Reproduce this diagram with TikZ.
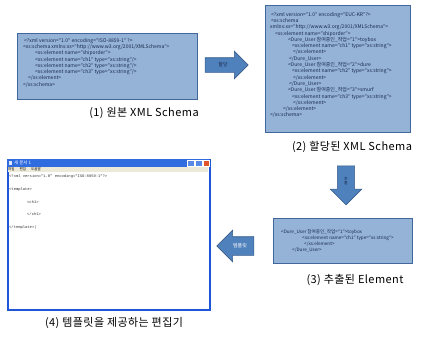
\documentclass[tikz,border=0pt]{standalone}
\usepackage{fontspec}
\setmainfont{Noto Sans CJK KR}
\newfontfamily\codefont{Liberation Mono}
\usetikzlibrary{positioning,shapes.arrows}
\definecolor{boxfill}{HTML}{95B3D7}
\definecolor{boxline}{HTML}{41679C}
\definecolor{ink}{HTML}{17284A}
\definecolor{arrowfill}{HTML}{4F81BD}
\definecolor{arrowline}{HTML}{385D8A}
\definecolor{xpblue}{HTML}{1E56D8}
\definecolor{xpbar}{HTML}{2F6CE0}
\definecolor{xpmenu}{HTML}{ECE9D8}
\definecolor{xpclose}{HTML}{E0552E}

\begin{document}
\begin{tikzpicture}[x=1pt, y=-1pt,
  xmlbox/.style={draw=boxline, line width=1pt, fill=boxfill, anchor=north west, inner sep=0pt},
  code/.style={anchor=north west, inner sep=0pt, align=left, text=ink, font=\fontsize{5}{6.3}\selectfont},
  steplabel/.style={font=\fontsize{11}{12}\selectfont\addfontfeatures{LetterSpace=4}, text=black},
  blockarrow/.style={single arrow, draw=arrowline, fill=arrowfill, line width=0.6pt,
    single arrow head extend=6.5pt, inner xsep=2pt, inner ysep=4.5pt,
    font=\fontsize{5}{5.5}\selectfont, text=ink}]

\useasboundingbox (0,0) rectangle (422,337);

% step 1: source schema
\node[xmlbox, minimum width=180pt, minimum height=66pt] (src) at (17,33) {};
\node[code] (srctxt) at (23,38)
  {\hspace*{1pt}<?xml version="1.0" encoding="ISO-8859-1" ?>\\
   <xs:schema xmlns:xs="http://www.w3.org/2001/XMLSchema">\\
   \hspace*{12pt}<xs:element name="shiporder">\\
   \hspace*{12pt}<xs:element name="ch1" type="xs:string"/>\\
   \hspace*{12pt}<xs:element name="ch2" type="xs:string"/>\\
   \hspace*{12pt}<xs:element name="ch3" type="xs:string"/>\\
   \hspace*{5pt}</xs:element>\\
   </xs:schema>};
\node[steplabel] (srccap) at (144,113) {(1) 원본 XML Schema};

% step 2: assigned schema
\node[blockarrow, text height=4pt, text depth=1pt, minimum height=43pt] (assign) at (223,65) {할당};
\node[xmlbox, minimum width=145pt, minimum height=127pt] (alloc) at (265,5) {};
\node[code] (alloctxt) at (270,12)
  {\hspace*{1pt}<?xml version="1.0" encoding="EUC-KR"?>\\
   \hspace*{1pt}<xs:schema\\
   xmlns:xs="http://www.w3.org/2001/XMLSchema">\\
   \hspace*{5pt}<xs:element name="shiporder">\\
   \hspace*{18pt}<Dure\_User 참여중인\_작업="1">toybox\\
   \hspace*{22pt}<xs:element name="ch1" type="xs:string">\\
   \hspace*{23pt}</xs:element>\\
   \hspace*{19pt}</Dure\_User>\\
   \hspace*{18pt}<Dure\_User 참여중인\_작업="2">dure\\
   \hspace*{22pt}<xs:element name="ch2" type="xs:string">\\
   \hspace*{23pt}</xs:element>\\
   \hspace*{19pt}</Dure\_User>\\
   \hspace*{18pt}<Dure\_User 참여중인\_작업="3">smurf\\
   \hspace*{22pt}<xs:element name="ch3" type="xs:string">\\
   \hspace*{23pt}</xs:element>\\
   \hspace*{13pt}</xs:element>\\
   </xs:schema>};
\node[steplabel] (alloccap) at (352,147) {(2) 할당된 XML Schema};

% step 3: extracted element
\node[blockarrow, shape border rotate=270, align=center, inner xsep=6.5pt, inner ysep=2pt,
  single arrow head extend=7pt, font=\fontsize{4}{4.5}\selectfont, minimum height=39pt] (pull) at (346,181) {추\\출};
\node[xmlbox, minimum width=139pt, minimum height=45pt] (extract) at (273,218) {};
\node[code, font=\fontsize{4.6}{6}\selectfont] (extracttxt) at (281,229)
  {<Dure\_User 참여중인\_작업="1">toybox\\
   \hspace*{21pt}<xs:element name="ch1" type="xs:string">\\
   \hspace*{23pt}</xs:element>\\
   \hspace*{11pt}</Dure\_User>};
\node[steplabel] (extractcap) at (355,280) {(3) 추출된 Element};

% step 4: template editor window
\node[blockarrow, shape border rotate=180, text=white, text height=4pt, text depth=1pt, inner ysep=6.5pt,
  minimum height=37pt] (tmpl) at (240,246) {템플릿};
\node[draw=xpblue, line width=2pt, fill=white, minimum width=202pt, minimum height=150pt,
  anchor=north west, inner sep=0pt] (editor) at (7,159) {};
\fill[xpbar] (editor.north west) rectangle (209,167);
\fill[white!85!xpbar] (9,161) rectangle (12,164.5);
\node[anchor=west, inner sep=0pt, text=white, font=\fontsize{4.5}{5}\selectfont] (title) at (14,163) {새 문서 1};
\filldraw[fill=xpbar!80!white, draw=white, line width=0.4pt] (187,160) rectangle (194,166);
\filldraw[fill=xpbar!80!white, draw=white, line width=0.4pt] (195,160) rectangle (202,166);
\filldraw[fill=xpclose, draw=white, line width=0.4pt] (203,160) rectangle (209,166);
\fill[xpmenu] (8,167) rectangle (208,172);
\node[anchor=west, inner sep=0pt, font=\fontsize{3.5}{4}\selectfont] (menu) at (8,169.5)
  {파일\hspace{5pt}편집\hspace{5pt}도움말};
\node[anchor=north west, inner sep=0pt, align=left, text=black!80, font=\codefont\fontsize{3.8}{6.4}\selectfont]
  (edittxt) at (9,174.5)
  {<?xml version="1.0" encoding="ISO-8859-1"?>\\[6.4pt]
   <template>\\[6.4pt]
   \hspace*{18pt}<ch1>\\[6.4pt]
   \hspace*{18pt}</ch1>\\[6.4pt]
   </template>|};
\node[steplabel] (editcap) at (114,323) {(4) 템플릿을 제공하는 편집기};
\end{tikzpicture}
\end{document}
